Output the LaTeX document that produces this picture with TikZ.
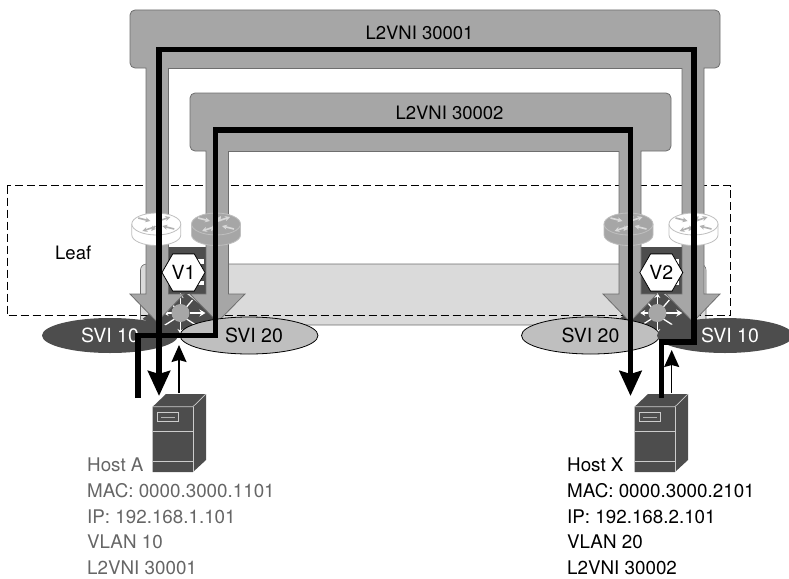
\documentclass[tikz,border=0pt]{standalone}
\usepackage{fontspec}
\setmainfont{TeX Gyre Heros}
\usetikzlibrary{arrows.meta,shapes.geometric}
\definecolor{legfill}{HTML}{A6A6A6}
\definecolor{legline}{HTML}{6E6E6E}
\definecolor{darkg}{HTML}{4D4D4D}
\definecolor{boxg}{HTML}{DADADA}
\definecolor{sviL}{HTML}{BFBFBF}
\definecolor{hostg}{HTML}{666666}
\tikzset{
  lbl/.style={font=\fontsize{18.5}{22}\selectfont,inner sep=0pt},
  vnishape/.style={fill=legfill,draw=legline,line width=0.8pt,line join=miter},
  blackpath/.style={line width=5.5pt,black,line join=miter},
  bigtip/.style={-{Stealth[length=25pt,width=22pt,inset=3pt]}},
  thintip/.style={line width=1.5pt,-{Stealth[length=17pt,width=15pt,inset=2pt]}},
  svidark/.style={ellipse,fill=darkg,minimum width=136pt,minimum height=35pt,inner sep=0pt,text=white,font=\fontsize{19.5}{22}\selectfont},
  svilight/.style={ellipse,fill=sviL,draw=black,line width=0.8pt,minimum width=138pt,minimum height=37pt,inner sep=0pt,font=\fontsize{19.5}{22}\selectfont},
  hexv/.style={regular polygon,regular polygon sides=6,fill=white,draw=black,line width=0.8pt,minimum size=43pt,inner sep=0pt,font=\fontsize{19.5}{22}\selectfont},
  hosttext/.style={font=\fontsize{18.8}{25.8}\selectfont,align=left,anchor=north west,inner sep=0pt},
  glyph/.style={white,line width=1.3pt},
}
% router: center x, top y, fill, line, glyph colour
\newcommand{\myrouter}[5]{%
 \begin{scope}[shift={(#1,#2)}]
  \fill[#3] (-24.5,11) -- (-24.5,22) arc[start angle=180,delta angle=-180,x radius=24.5,y radius=10.5] -- (24.5,11) -- cycle;
  \draw[#4,line width=0.8pt] (-24.5,11) -- (-24.5,22) arc[start angle=180,delta angle=-180,x radius=24.5,y radius=10.5] -- (24.5,11);
  \draw[#4,fill=#3,line width=0.8pt] (0,11) ellipse[x radius=24.5,y radius=11];
  \begin{scope}[#5,line width=1.6pt,-{Stealth[length=5pt,width=5pt]}]
   \draw (-18,5) -- (-6,8);
   \draw (-2,14) -- (-14,18);
   \draw (18,16) -- (6,13);
   \draw (2,8) -- (14,4);
   \draw (-1,13) -- (-5,18);
   \draw (1,9) -- (5,3);
  \end{scope}
 \end{scope}}
% switch stack and diamond: stack left x, stack right x, circle x
\newcommand{\myswitch}[3]{%
 \fill[darkg] (#1,247) rectangle (#2,294);
 \fill[white] (#2-17,259) rectangle (#2-3,264);
 \fill[white] (#2-17,270) rectangle (#2-3,275);
 \fill[white] (#2-17,281) rectangle (#2-3,285);
 \begin{scope}[shift={(#3,313)}]
  \fill[darkg] (0,-24) -- (38,6) -- (0,24) -- (-38,6) -- cycle;
  \draw[glyph,-{Stealth[length=6pt,width=7pt]},line width=1.6pt] (9,0) -- (25,0);
  \draw[glyph,-{Stealth[length=5pt,width=6pt]}] (-9,0) -- (-17,0);
  \draw[glyph,-{Stealth[length=5pt,width=6pt]}] (0,-9) -- (0,-20);
  \draw[glyph,-{Stealth[length=5pt,width=6pt]}] (0,9) -- (0,21);
  \draw[glyph] (6,6) -- (17,13);
  \draw[glyph] (-6,6) -- (-17,13);
  \draw[glyph] (-6,-6) -- (-12,-13);
  \draw[glyph] (6,-6) -- (12,-13);
  \fill[legfill] (0,0) circle[radius=9];
 \end{scope}}
% server: x offset
\newcommand{\myserver}[1]{%
 \begin{scope}[xshift=#1pt]
  \fill[darkg] (152.7,406.7) -- (166,394) -- (206,394) -- (206,460) -- (193,472) -- (152.7,472) -- cycle;
  \draw[white!80!black,line width=0.7pt] (152.7,406.7) -- (193,406.7) -- (206,394);
  \draw[white!80!black,line width=0.7pt] (193,406.7) -- (193,472);
  \draw[white!80!black,line width=0.9pt] (152.7,431.7) -- (193,431.7);
  \draw[white!80!black,line width=0.9pt] (152.7,461.7) -- (193,461.7);
  \draw[white!80!black,line width=0.8pt] (157.5,412.5) rectangle (178.5,421.5);
  \draw[white!70!black,line width=1pt] (161,417) -- (175,417);
 \end{scope}}
\begin{document}
\begin{tikzpicture}[x=1pt,y=-1pt]
\useasboundingbox (0,0) rectangle (789,578);

% named points
\coordinate (a1) at (159,49.5);
\coordinate (a1e) at (159,396);
\coordinate (a2) at (694,49.5);
\coordinate (a3) at (694,342);
\coordinate (a4) at (661.5,342);
\coordinate (a5) at (661.5,398);
\coordinate (b1) at (215.5,130);
\coordinate (b2) at (215.5,335.5);
\coordinate (b3) at (138,335.5);
\coordinate (b4) at (138,398);
\coordinate (b5) at (630.5,130);
\coordinate (b5e) at (630.5,396);
\coordinate (h1) at (179,393);
\coordinate (h1e) at (179,345);
\coordinate (h2) at (671.7,393);
\coordinate (h2e) at (671.7,350);

% light box
\fill[boxg,draw=legline,line width=0.6pt,rounded corners=6pt] (140.5,264) rectangle (706,325);

% leaf boundary
\node[draw=none,inner sep=0pt,anchor=north west,minimum width=723pt,minimum height=130pt] (leaf) at (7,185.5) {};
\draw[black,line width=0.9pt,dash pattern=on 8pt off 4pt] (leaf.north west) rectangle (leaf.south east);

% switches
\myswitch{168}{207}{180.5}
\myswitch{641}{682}{657.3}

% L2VNI 30001 shape
\draw[vnishape] (146,68) -- (135,68) arc[start angle=90,delta angle=90,radius=5] -- (130,15) arc[start angle=180,delta angle=90,radius=5]
 -- (715,10) arc[start angle=-90,delta angle=90,radius=5] -- (720,63) arc[start angle=0,delta angle=90,radius=5]
 -- (704,68) -- (704,294) -- (720,294) -- (693,322) -- (666,294) -- (682,294) -- (682,68.5)
 -- (168.5,68.5) -- (168.5,294) -- (184,294) -- (157,322) -- (130,294) -- (146,294) -- cycle;
% L2VNI 30002 shape
\draw[vnishape] (206,151) -- (195,151) arc[start angle=90,delta angle=90,radius=5] -- (190,98) arc[start angle=180,delta angle=90,radius=5]
 -- (666,93) arc[start angle=-90,delta angle=90,radius=5] -- (671,146) arc[start angle=0,delta angle=90,radius=5]
 -- (641,151) -- (641,294) -- (657,294) -- (630,322) -- (603,294) -- (619,294) -- (619,151.5)
 -- (228.5,151.5) -- (228.5,294) -- (245,294) -- (217.5,322) -- (190,294) -- (206,294) -- cycle;

% routers
\myrouter{156.3}{213}{white}{black!25}{black!30}
\myrouter{216}{213}{legfill}{black!25}{white!85!black}
\myrouter{628.5}{213}{legfill}{black!25}{white!85!black}
\myrouter{693.5}{213}{white}{black!25}{black!30}

% SVI ellipses
\node[svidark] (svi10a) at (110,335.5) {SVI 10};
\node[svilight] (svi20a) at (249,335.5) {\hspace*{10pt}SVI 20};
\node[svilight] (svi20b) at (590.5,335.5) {SVI 20};
\node[svidark] (svi10b) at (725,335.5) {\hspace*{10pt}SVI 10};

% hexagons
\node[hexv] (v1) at (183.5,272.5) {V1};
\node[hexv] (v2) at (661.3,272.5) {V2};

% servers
\myserver{0}
\myserver{482}

% labels
\node[lbl] (l1) at (419.5,33) {L2VNI 30001};
\node[lbl] (l2) at (449.5,113) {L2VNI 30002};
\node[lbl,anchor=base west] (leaflbl) at (55,259) {Leaf};
\node[hosttext,text=hostg] (hosta) at (87,457.5) {Host A\\MAC: 0000.3000.1101\\IP: 192.168.1.101\\VLAN 10\\L2VNI 30001};
\node[hosttext,text=black] (hostx) at (567,457.5) {Host X\\MAC: 0000.3000.2101\\IP: 192.168.2.101\\VLAN 20\\L2VNI 30002};

% traffic paths
\draw[blackpath,bigtip] (a5) -- (a4) -- (a3) -- (a2) -- (a1) -- (a1e);
\draw[blackpath,bigtip] (b4) -- (b3) -- (b2) -- (b1) -- (b5) -- (b5e);
\draw[thintip] (h1) -- (h1e);
\draw[thintip] (h2) -- (h2e);
\end{tikzpicture}
\end{document}
